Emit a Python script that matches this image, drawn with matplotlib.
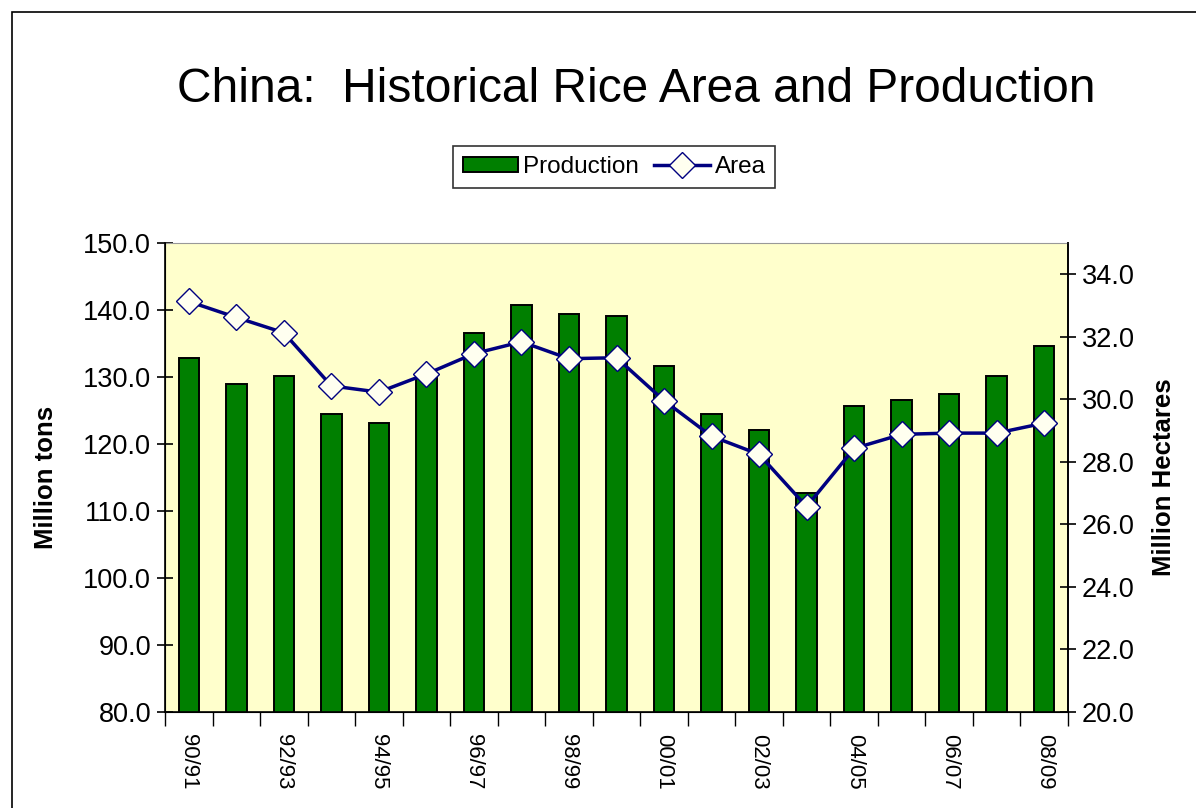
import matplotlib.pyplot as plt
import numpy as np
from matplotlib.patches import Rectangle

plt.rcParams['font.family'] = ['Liberation Sans', 'DejaVu Sans']

years = ['90/91', '91/92', '92/93', '93/94', '94/95', '95/96', '96/97', '97/98',
         '98/99', '99/00', '00/01', '01/02', '02/03', '03/04', '04/05', '05/06',
         '06/07', '07/08', '08/09']
production = [132.9, 128.9, 130.2, 124.5, 123.2, 129.9, 136.5, 140.7, 139.4, 139.1,
              131.6, 124.5, 122.1, 112.7, 125.6, 126.5, 127.4, 130.2, 134.6]
area = [33.13, 32.62, 32.13, 30.43, 30.23, 30.81, 31.46, 31.84, 31.30, 31.33,
        29.96, 28.82, 28.24, 26.57, 28.43, 28.88, 28.92, 28.92, 29.24]

fig = plt.figure(figsize=(11.96, 8.08), dpi=100)
fig.patches.append(Rectangle((12 / 1196, -0.1), 1.2, (808 - 12) / 808 + 0.1,
                             transform=fig.transFigure, fill=False,
                             edgecolor='black', linewidth=1.2))

ax = fig.add_axes([165 / 1196, 1 - 712 / 808, (1068 - 165) / 1196, (712 - 243) / 808])
ax.set_facecolor('#FFFFCC')
x = np.arange(len(years))
bars = ax.bar(x, production, width=0.43, color='#007F00', edgecolor='black',
              linewidth=1.4, label='Production', zorder=2)
ax.set_xlim(-0.5, len(years) - 0.5)
ax.set_ylim(80, 150)
ax.set_yticks(np.arange(80, 151, 10))
ax.set_yticklabels([f'{v:.1f}' for v in np.arange(80, 151, 10)], fontsize=19.5)
ax.set_xticks(x[::2])
ax.set_xticklabels(years[::2], rotation=-90, fontsize=16)
ax.set_xticks(np.arange(-0.5, len(years), 1), minor=True)
ax.tick_params(axis='x', which='major', length=0, pad=16)
ax.tick_params(axis='x', which='minor', length=10, direction='out', width=1)
ax.tick_params(axis='y', length=12, direction='inout', width=1.2, pad=4)
ax.set_ylabel('Million tons', fontsize=18.5, fontweight='bold', labelpad=18)
ax.spines['top'].set_color('#999999')
for s in ['left', 'bottom', 'right']:
    ax.spines[s].set_linewidth(1.2)

ax2 = ax.twinx()
ax2.set_ylim(20, 35)
ax2.set_yticks(np.arange(20, 35, 2))
ax2.set_yticklabels([f'{v:.1f}' for v in np.arange(20, 35, 2)], fontsize=19.5)
ax2.tick_params(axis='y', length=12, direction='inout', width=1.2, pad=4)
line, = ax2.plot(x, area, color='#000080', linewidth=2.5, marker='D', markersize=13,
                 markerfacecolor='#FFFFF0', markeredgecolor='#000080',
                 markeredgewidth=1, label='Area', zorder=3)
ax2.set_ylabel('Million Hectares', fontsize=18.5, fontweight='bold', rotation=90, labelpad=12)
ax2.spines['top'].set_visible(False)
ax2.spines['right'].set_linewidth(1.2)

fig.text(636 / 1196, 1 - 90 / 808, 'China:  Historical Rice Area and Production', ha='center',
         va='center', fontsize=34.5)
leg = fig.legend([bars, line], ['Production', 'Area'], loc='center',
                 bbox_to_anchor=(614 / 1196, 1 - 167 / 808), ncol=2, fontsize=17.5,
                 frameon=True, fancybox=False, handlelength=2.3, handleheight=0.6,
                 handletextpad=0.2, columnspacing=0.6, borderpad=0.4)
leg.get_frame().set_edgecolor('black')
leg.get_frame().set_linewidth(1.2)

fig.savefig('out.png', dpi=100)
